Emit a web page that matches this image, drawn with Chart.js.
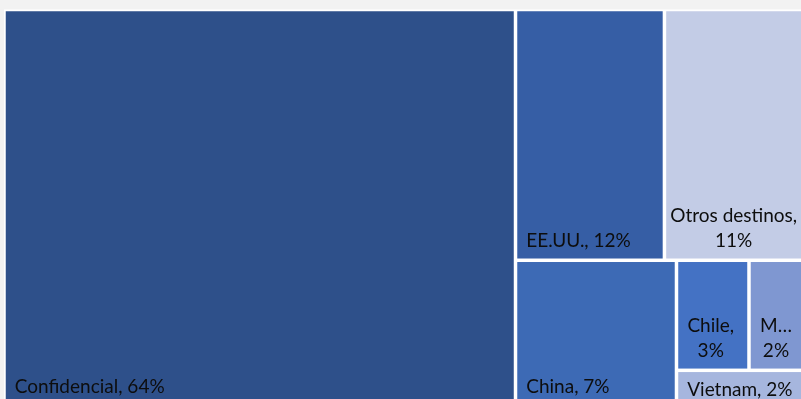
<!DOCTYPE html>
<html>
<head>
<meta charset="utf-8">
<script src="https://cdn.jsdelivr.net/npm/chart.js@4.4.0/dist/chart.umd.min.js"></script>
<style>
  html, body { margin: 0; padding: 0; background: #f2f2f2; overflow: hidden; }
  #wrap { width: 801px; height: 399px; overflow: hidden; }
</style>
</head>
<body>
<div id="wrap"><canvas id="chart" width="812" height="412"></canvas></div>
<script>
// destinos, share in % (labels show rounded values)
const categories = ['Confidencial', 'EE.UU.', 'Otros destinos', 'China', 'Chile', 'México', 'Vietnam'];
const values = [63.7, 11.7, 11.2, 7.4, 2.5, 2.0, 1.5];
const colors = ['#2e508a', '#365ea5', '#c3cce6', '#3d6ab5', '#4472c4', '#7f97d1', '#a6b6de'];

const FONT = '19px Lato';
const PAD = 9;

// classic squarified layout, w/h in any unit, areas must sum to w*h
function worst(areas, side) {
  const s = areas.reduce((a, b) => a + b, 0);
  const mx = Math.max(...areas), mn = Math.min(...areas);
  return Math.max(side * side * mx / (s * s), (s * s) / (side * side * mn));
}

function squarify(items, x, y, w, h) {
  const out = [];
  let rest = items.slice();
  while (rest.length) {
    const side = Math.min(w, h);
    let row = [rest[0]];
    let k = 1;
    while (k < rest.length) {
      const cand = row.concat(rest[k]);
      if (worst(cand.map(r => r.area), side) <= worst(row.map(r => r.area), side)) {
        row = cand; k++;
      } else break;
    }
    rest = rest.slice(k);
    const s = row.reduce((a, r) => a + r.area, 0);
    if (w >= h) {
      const cw = s / h;
      let cy = y;
      row.forEach(r => { const rh = r.area / cw; out[r.i] = { x, y: cy, w: cw, h: rh }; cy += rh; });
      x += cw; w -= cw;
    } else {
      const rh = s / w;
      let cx = x;
      row.forEach(r => { const rw = r.area / rh; out[r.i] = { x: cx, y, w: rw, h: rh }; cx += rw; });
      y += rh; h -= rh;
    }
  }
  return out;
}

function fitText(ctx, txt, maxW) {
  if (ctx.measureText(txt).width <= maxW) return txt;
  let t = txt;
  // once it has to be cut, keep a wider margin (like the office renderer)
  while (t.length > 1 && ctx.measureText(t + '…').width > maxW - 14) t = t.slice(0, -1);
  return t + '…';
}

const treemapPlugin = {
  id: 'treemap',
  afterDatasetsDraw(chart) {
    const { ctx, scales: { x: xs, y: ys } } = chart;
    const pw = xs.getPixelForValue(1) - xs.getPixelForValue(0);
    const ph = ys.getPixelForValue(1) - ys.getPixelForValue(0);
    const r = pw / ph;
    const total = values.reduce((a, b) => a + b, 0);
    const items = values.map((v, i) => ({ i, area: v / total * r }))
      .sort((a, b) => b.area - a.area);
    const cells = squarify(items, 0, 0, r, 1);

    ctx.save();
    // white backdrop shows through as cell borders
    ctx.fillStyle = '#ffffff';
    ctx.fillRect(xs.getPixelForValue(0), ys.getPixelForValue(0), pw, ph);

    cells.forEach((c, i) => {
      const x0 = xs.getPixelForValue(c.x / r) + 1.75;
      const x1 = xs.getPixelForValue((c.x + c.w) / r) - 1.75;
      const y0 = ys.getPixelForValue(c.y) + 1.75;
      const y1 = ys.getPixelForValue(c.y + c.h) - 1.75;
      ctx.fillStyle = colors[i];
      ctx.fillRect(x0, y0, x1 - x0, y1 - y0);

      ctx.fillStyle = '#0d0d0d';
      ctx.font = FONT;
      ctx.textBaseline = 'alphabetic';
      const pct = Math.round(values[i]) + '%';
      const one = categories[i] + ', ' + pct;
      const cw = x1 - x0;
      // short cells get their label centred vertically
      const base = (y1 - y0) < 45 ? (y0 + y1) / 2 + 7 : y1 - 12;
      if (ctx.measureText(one).width <= cw - 2 * PAD) {
        ctx.textAlign = 'left';
        ctx.fillText(one, x0 + PAD, base);
      } else {
        ctx.textAlign = 'center';
        const cx = (x0 + x1) / 2 - 2;
        ctx.fillText(fitText(ctx, categories[i] + ',', cw - 12), cx, base - 25);
        ctx.fillText(pct, cx, base);
      }
    });
    ctx.restore();
  }
};

new Chart(document.getElementById('chart'), {
  type: 'scatter',
  data: { datasets: [{ data: [] }] },
  options: {
    responsive: false,
    animation: false,
    devicePixelRatio: 1,
    layout: { padding: { left: 4, top: 9.5, right: 5, bottom: 5 } },
    scales: {
      x: { type: 'linear', min: 0, max: 1, display: false },
      y: { type: 'linear', min: 0, max: 1, reverse: true, display: false }
    },
    plugins: { legend: { display: false }, tooltip: { enabled: false } }
  },
  plugins: [treemapPlugin]
});
</script>
</body>
</html>
